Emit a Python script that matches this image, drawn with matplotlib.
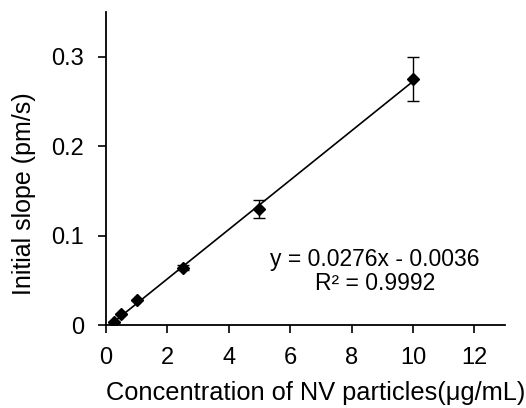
import matplotlib
matplotlib.use("Agg")
import matplotlib.pyplot as plt
import numpy as np

plt.rcParams['font.family'] = ['Liberation Sans', 'DejaVu Sans']

conc = [0.25, 0.5, 1.0, 2.5, 5.0, 10.0]
slope = [0.003, 0.012, 0.028, 0.064, 0.13, 0.275]
err = [0.0, 0.0, 0.0, 0.003, 0.01, 0.025]
fit_a, fit_b = 0.0276, -0.0036
eq_text = "y = 0.0276x - 0.0036\nR² = 0.9992"
xticks = [0, 2, 4, 6, 8, 10, 12]
yticks = [0, 0.1, 0.2, 0.3]
ytick_labels = ["0", "0.1", "0.2", "0.3"]

fig = plt.figure(figsize=(5.26, 4.08), dpi=100)
ax = fig.add_axes([0.2015, 0.2034, 0.7585, 0.767])

xf = np.array([conc[0], conc[-1]])
ax.plot(xf, fit_a * xf + fit_b, color='black', lw=1.2, zorder=2)
ax.errorbar(conc, slope, yerr=err, fmt='D', color='black', ms=6.5,
            ecolor='black', elinewidth=1.0, capsize=4, capthick=1.0, zorder=3)

ax.set_xlim(0, 13)
ax.set_ylim(0, 0.35)
ax.set_xticks(xticks)
ax.set_yticks(yticks)
ax.set_yticklabels(ytick_labels)
for s in ['top', 'right']:
    ax.spines[s].set_visible(False)
for s in ['left', 'bottom']:
    ax.spines[s].set_linewidth(1.3)
ax.tick_params(direction='out', length=6, width=1.2, labelsize=17, pad=10)

ax.text(8.77, 0.0598, eq_text, ha='center', va='center', fontsize=16.5,
        linespacing=1.1)

ax.set_xlabel("Concentration of NV particles(μg/mL)", fontsize=18.3)
ax.set_ylabel("Initial slope (pm/s)", fontsize=18)
ax.xaxis.set_label_coords(0.526, -0.179)
ax.yaxis.set_label_coords(-0.175, 0.4185)

fig.savefig("out.png", dpi=100)
